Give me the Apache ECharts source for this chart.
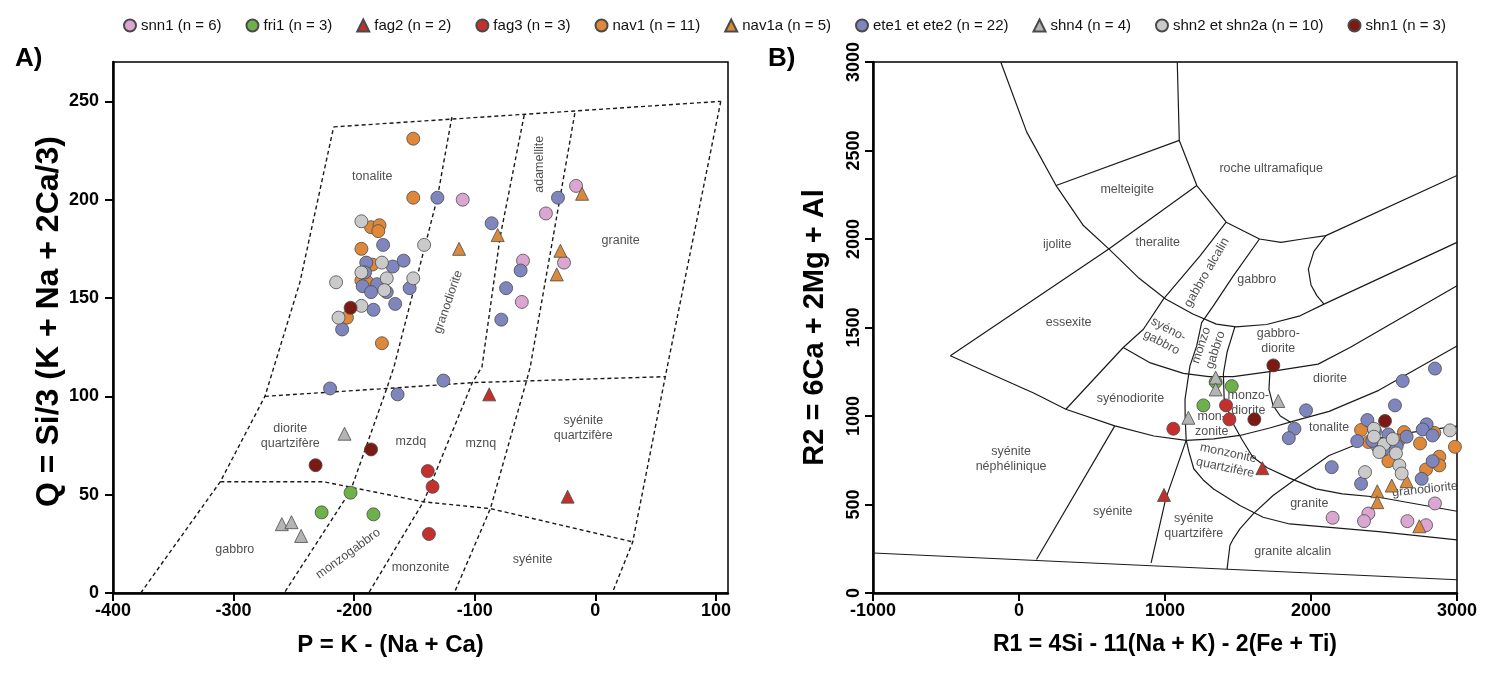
<!DOCTYPE html>
<html><head><meta charset="utf-8">
<script src="https://cdn.jsdelivr.net/npm/echarts/dist/echarts.min.js"></script>
<style>html,body{margin:0;padding:0;background:#fff}#c{width:1499px;height:683px}</style>
</head><body><div id="c"></div><script>
// ---------- series names ----------
const seriesNames = ['snn1 (n = 6)','fri1 (n = 3)','fag2 (n = 2)','fag3 (n = 3)','nav1 (n = 11)','nav1a (n = 5)','ete1 et ete2 (n = 22)','shn4 (n = 4)','shn2 et shn2a (n = 10)','shn1 (n = 3)'];

// ---------- panel A values (P, Q) ----------
const snn1A = [[-110,200],[-41,193],[-16,207],[-60,169],[-26,168],[-61,148]];
const fri1A = [[-203,51],[-227,41],[-184,40]];
const fag2A = [[-88,101],[-23,49]];
const fag3A = [[-139,62],[-135,54],[-138,30]];
const nav1A = [[-151,231],[-151,201],[-186,186],[-179,187],[-180,184],[-194,175],[-185,167],[-194,159],[-189,158],[-206,140],[-177,127]];
const nav1aA = [[-11,203],[-81,182],[-113,175],[-29,174],[-32,162]];
const eteA = [[-131,201],[-176,177],[-190,168],[-168,166],[-159,169],[-191,163],[-193,156],[-181,157],[-186,153],[-173,153],[-154,155],[-184,144],[-166,147],[-210,134],[-86,188],[-62,164],[-74,155],[-78,139],[-31,201],[-220,104],[-164,101],[-126,108]];
const shn4A = [[-208,81],[-260,35],[-252,36],[-244,29]];
const shn2A = [[-194,189],[-142,177],[-177,168],[-194,163],[-215,158],[-173,160],[-151,160],[-175,154],[-194,146],[-213,140]];
const shn1A = [[-203,145],[-232,65],[-186,73]];

// ---------- panel B values (R1, R2) ----------
const snn1B = [[2849,506],[2393,449],[2363,406],[2660,406],[2788,383],[2148,425]];
const fri1B = [[1347,1192],[1457,1169],[1263,1060]];
const fag2B = [[1667,705],[993,554]];
const fag3B = [[1057,928],[1418,1060],[1441,981]];
const nav1B = [[2343,921],[2393,853],[2637,909],[2747,845],[2986,826],[2530,745],[2788,698],[2879,770],[2879,721],[2845,905],[2600,860]];
const nav1aB = [[2454,575],[2454,513],[2553,607],[2655,632],[2742,377]];
const eteB = [[1966,1032],[1887,928],[1848,875],[2142,711],[2343,617],[2849,1268],[2628,1198],[2575,1060],[2386,977],[2317,858],[2530,896],[2454,830],[2792,953],[2765,924],[2833,890],[2758,645],[2833,745],[2655,883],[2438,915],[2495,811],[2587,830],[2420,860]];
const shn4B = [[1347,1217],[1347,1150],[1160,990],[1776,1085]];
const shn2B = [[2431,928],[2431,883],[2500,840],[2468,796],[2582,789],[2605,721],[2621,675],[2952,919],[2370,683],[2560,870]];
const shn1B = [[1742,1286],[1612,981],[2507,972]];

// ---------- panel A field boundaries (P, Q) ----------
const aTop = [[-217,237],[104,250]];
const aLeft = [[-377,0],[-311,56.6],[-274,100],[-245,158],[-217,237]];
const aRight = [[104,250],[58,110],[31,26],[14,0]];
const aLineB = [[-119,242],[-131,201],[-167,115],[-173,104],[-203,52],[-258,0]];
const aLineC = [[-59,243],[-79,181],[-94,115],[-102,107],[-142,47],[-188,0]];
const aLineD = [[-17,244],[-29,202],[-54,115],[-57,108],[-87,43],[-117,0]];
const aUpperH = [[-274,100],[-173,104],[-101,107],[58,110]];
const aLowerH = [[-311,56.6],[-225.5,56.6],[-143,46.4],[-87,42.9],[31,26]];

// ---------- panel B field boundaries (R1, R2) ----------
const bArc = [[-125,3000],[53,2604],[254,2302],[441,2076],[615,1944],[816,1783],[1004,1661],[1191,1576],[1352,1519],[1486,1504],[1696,1517],[1925,1566],[2089,1632],[3000,1981]];
const bUltra = [[1084,3000],[1098,2557],[1218,2302],[1419,2095],[1647,2000],[1794,1981],[1942,2000],[2102,2019],[3000,2359]];
const bMelt = [[254,2302],[1098,2557]];
const bDiag = [[1218,2302],[615,1944],[-470,1340]];
const bLobe = [[2102,2019],[2020,1930],[1982,1830],[2000,1740],[2040,1680],[2089,1632]];
const bGalc = [[1419,2095],[1240,1905],[989,1660],[852,1490],[714,1387],[321,1038]];
const bGab = [[1647,2000],[1468,1792],[1331,1622],[1251,1528],[1217,1396],[1171,1283],[1137,1094],[1138,1000],[1145,865],[1163,800],[1197,702],[1260,640],[1333,588],[1513,494],[1672,428],[1853,390],[2464,347],[3000,300]];
const bSdio = [[714,1387],[900,1300],[1126,1241],[1300,1222],[1468,1222],[1742,1254],[2049,1293],[2267,1387],[3000,1736]];
const bMzdio = [[1479,1505],[1425,1360],[1400,1240],[1405,1100],[1455,975],[1525,870],[1600,770],[1700,708],[1853,649],[2034,588],[2215,560],[2464,541],[3000,462]];
const bMdio = [[1719,1254],[1712,1150],[1740,1060],[1790,1000],[1860,965]];
const bLow = [[-470,1340],[-200,1240],[100,1130],[321,1038],[656,944],[924,887],[1145,862],[1333,871],[1513,890],[1717,932],[1898,975],[2124,1026],[2464,1145],[3000,1396]];
const bSyeNeph = [[656,944],[120,189]];
const bSyeQ = [[1145,862],[1005,532],[905,170]];
const bGalk = [[1425,135],[1445,270],[1468,306],[1513,362],[1604,447],[1740,551],[1898,645],[2124,777],[2350,852],[2587,896],[3000,943]];
const bBottom = [[-1000,226],[3000,75]];

// ---------- field names ----------
const fieldNamesA = ['tonalite','adamellite','granite','granodiorite','diorite\nquartzifère','mzdq','mznq','syénite\nquartzifère','gabbro','monzogabbro','monzonite','syénite'];
const fieldPosA = [[-185,212],[-46,218],[21,179],[-122,148],[-253,80],[-153,77],[-95,76],[-10,84],[-299,22],[-205,20],[-145,13],[-52,17]];
const fieldNamesB = ['roche ultramafique','melteigite','ijolite','theralite','gabbro alcalin','gabbro','essexite','syéno-\ngabbro','monzo\ngabbro','gabbro-\ndiorite','diorite','syénodiorite','monzo-\ndiorite','mon-\nzonite','tonalite','syénite\nnéphélinique','monzonite\nquartzifère','granodiorite','granite','syénite','syénite\nquartzifère','granite alcalin'];
const fieldPosB = [[1727,2400],[741,2278],[262,1966],[950,1981],[1286,1811],[1628,1773],[340,1528],[1000,1452],[1297,1386],[1776,1424],[2130,1211],[763,1100],[1571,1075],[1320,953],[2124,937],[-54,755],[1423,749],[2781,585],[1988,504],[642,459],[1197,381],[1875,236]];

// ---------- styling / option building ----------
const FF = "'Liberation Sans',Arial,sans-serif";
const symbols = ['circle','circle','triangle','circle','circle','triangle','circle','triangle','circle','circle'];
const colors = ['#dca6d2','#6db14a','#c0302c','#c4302e','#e0883a','#d98a3a','#7f86bd','#b4b4b4','#cacaca','#7b1a12'];
const valsA = [snn1A,fri1A,fag2A,fag3A,nav1A,nav1aA,eteA,shn4A,shn2A,shn1A];
const valsB = [snn1B,fri1B,fag2B,fag3B,nav1B,nav1aB,eteB,shn4B,shn2B,shn1B];
const rotA = {'adamellite':90,'granodiorite':71,'monzogabbro':36};
const rotB = {'gabbro alcalin':60,'syéno-\ngabbro':-28,'monzo\ngabbro':72,'monzonite\nquartzifère':-12,'granodiorite':6};

const series = [];
function lineSeries(data, gi, dashed){
  return {type:'line', xAxisIndex:gi, yAxisIndex:gi, data:data, symbol:'none', showSymbol:false, silent:true, z:1,
    lineStyle:{color:'#1a1a1a', width:dashed?1.4:1.2, type:dashed?[4,3]:'solid'}, animation:false};
}
[aTop,aLeft,aRight,aLineB,aLineC,aLineD,aUpperH,aLowerH].forEach(d=>series.push(lineSeries(d,0,true)));
[bArc,bUltra,bMelt,bDiag,bLobe,bGalc,bGab,bSdio,bMzdio,bMdio,bLow,bSyeNeph,bSyeQ,bGalk,bBottom].forEach(d=>series.push(lineSeries(d,1,false)));

function labelSeries(names, pos, rot, gi){
  return {type:'scatter', xAxisIndex:gi, yAxisIndex:gi, symbolSize:1, silent:true, z:2, animation:false,
    itemStyle:{color:'rgba(0,0,0,0)'},
    label:{show:true, position:'inside', formatter:'{b}', color:'#222', fontSize:12.5, fontFamily:FF, lineHeight:15},
    data: names.map((n,i)=>({name:n, value:pos[i], label:{rotate: rot[n]||0}}))};
}
series.push(labelSeries(fieldNamesA, fieldPosA, rotA, 0));
series.push(labelSeries(fieldNamesB, fieldPosB, rotB, 1));

[valsA, valsB].forEach((vals, gi)=>{
  vals.forEach((v,i)=>{
    series.push({type:'scatter', name:seriesNames[i], xAxisIndex:gi, yAxisIndex:gi, data:v, symbol:symbols[i],
      symbolSize:13, z:5, animation:false,
      itemStyle:{color:colors[i], borderColor:'#4a4a4a', borderWidth:0.8, opacity:1}});
  });
});

const axisCommon = {
  axisLine:{show:true, onZero:false, lineStyle:{color:'#000', width:2.5}},
  axisTick:{show:true, inside:false, length:8, lineStyle:{color:'#000', width:2}},
  splitLine:{show:false},
  nameLocation:'middle'
};
const plain = v => String(v);
const labelCommon = {fontFamily:FF, fontWeight:'bold', fontSize:18, color:'#000', formatter:plain};
const nameStyle = sz => ({fontFamily:FF, fontWeight:'bold', fontSize:sz, color:'#000'});

const option = {
  animation:false,
  backgroundColor:'#fff',
  legend:{data:seriesNames, top:13, left:118, itemWidth:12, itemHeight:12, itemGap:24,
    textStyle:{fontFamily:FF, fontSize:15, color:'#111'}},
  grid:[
    {left:113, top:62, width:615, height:531, show:true, borderColor:'#000', borderWidth:1.5, backgroundColor:'rgba(0,0,0,0)'},
    {left:873, top:62, width:584, height:531, show:true, borderColor:'#000', borderWidth:1.5, backgroundColor:'rgba(0,0,0,0)'}
  ],
  xAxis:[
    Object.assign({}, axisCommon, {type:'value', gridIndex:0, min:-400, max:110, interval:100, name:'P = K - (Na + Ca)', nameGap:40,
      nameTextStyle:Object.assign(nameStyle(24), {padding:[0,60,0,0]}),
      axisLabel:Object.assign({}, labelCommon, {margin:9, showMaxLabel:false})}),
    Object.assign({}, axisCommon, {type:'value', gridIndex:1, min:-1000, max:3000, interval:1000, name:'R1 = 4Si - 11(Na + K) - 2(Fe + Ti)', nameGap:40,
      nameTextStyle:nameStyle(23),
      axisLabel:Object.assign({}, labelCommon, {margin:9})})
  ],
  yAxis:[
    Object.assign({}, axisCommon, {type:'value', gridIndex:0, min:0, max:270, interval:50, name:'Q = Si/3 (K + Na + 2Ca/3)', nameGap:47,
      nameTextStyle:Object.assign(nameStyle(32), {padding:[0,0,0,12]}),
      axisLabel:Object.assign({}, labelCommon, {margin:14, showMaxLabel:false})}),
    Object.assign({}, axisCommon, {type:'value', gridIndex:1, min:0, max:3000, interval:500, name:'R2 = 6Ca + 2Mg + Al', nameGap:44,
      nameTextStyle:nameStyle(29),
      axisLabel:Object.assign({}, labelCommon, {margin:10, rotate:90})})
  ],
  graphic:[
    {type:'text', left:15, top:46, style:{text:'A)', font:"bold 26px "+FF, fill:'#000'}},
    {type:'text', left:768, top:46, style:{text:'B)', font:"bold 26px "+FF, fill:'#000'}}
  ],
  series:series
};
const chart = echarts.init(document.getElementById('c'), null, {renderer:'canvas'});
chart.setOption(option);
</script></body></html>
